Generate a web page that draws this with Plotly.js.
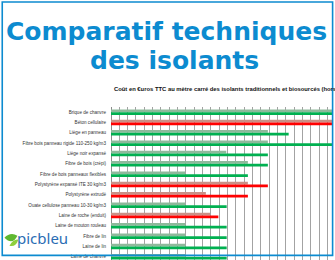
<!DOCTYPE html>
<html>
<head>
<meta charset="utf-8">
<script src="https://cdn.plot.ly/plotly-3.0.1.min.js"></script>
<style>
html,body{margin:0;padding:0;overflow:hidden;background:#fff;}
#chart{width:335px;height:280px;}
</style>
</head>
<body>
<div id="chart"></div>
<script>
// Categories (top to bottom)
const categories = [
  "Brique de chanvre",
  "Béton cellulaire",
  "Liège en panneau",
  "Fibre bois panneau rigide 110-250 kg/m3",
  "Liège noir expansé",
  "Fibre de bois (crépi)",
  "Fibre de bois panneaux flexibles",
  "Polystyrène expansé ITE 30 kg/m3",
  "Polystyrène extrudé",
  "Ouate cellulose panneau 10-30 kg/m3",
  "Laine de roche (enduit)",
  "Laine de mouton rouleau",
  "Fibre de lin",
  "Laine de lin",
  "Laine de chanvre"
];
// 1 = biosourcé (green), 0 = traditionnel (red)
const biosource = [1,0,1,1,1,1,1,0,0,1,0,1,1,1,1];
// Cost in € TTC / m²
const costMin = [60, 58, 37.7, 37.7, 27.7, 32.9, 17.8, 32.9, 22.8, 17.8, 23.8, 17.8, 17.8, 17.8, 17.8];
const costMax = [62, 62, 42.7, 56, 37.7, 37.7, 32.9, 37.7, 32.9, 27.8, 25.8, 27.8, 27.8, 27.8, 27.8];

const BLUE = "#0c8bd0";
const L = 110.7, T = 107, R = 333, ROW = 10.36;
const W = R - L, H = ROW * categories.length;
const FW = 335, FH = 280;
const px = v => (v - L) / W;
const py = v => 1 - (v - T) / H;

const lightFg = biosource.map(b => b ? "#2fb461" : "#f25a48");
const lightBg = biosource.map(b => b ? "#a8e0b8" : "#f7aa9c");
const solid = biosource.map(b => b ? "#00b050" : "#ff0000");

const traces = [
  {
    type: "bar", orientation: "h", y: categories, x: costMin,
    marker: {color: lightBg, line: {width: 0},
      pattern: {shape: "|", fgcolor: lightFg, bgcolor: lightBg, size: 2, solidity: 0.5, fillmode: "overlay"}},
    hoverinfo: "none"
  },
  {
    type: "bar", orientation: "h", y: categories, x: costMax,
    marker: {color: solid, line: {width: 0}},
    hoverinfo: "none"
  }
];

const layout = {
  width: FW, height: FH,
  margin: {l: L, r: FW - R, t: T, b: FH - T - H, pad: 0},
  paper_bgcolor: "#fff", plot_bgcolor: "#fff",
  showlegend: false,
  barmode: "group", bargap: 0.46, bargroupgap: 0,
  xaxis: {range: [0, W / 8.333 * 2], dtick: 2, tick0: 0, showgrid: true, gridcolor: "#a3a3a3", gridwidth: 1,
    showticklabels: false, zeroline: true, zerolinecolor: "#8c8c8c", zerolinewidth: 1, fixedrange: true},
  yaxis: {type: "category", autorange: "reversed", showgrid: false, zeroline: false,
    showline: false, ticks: "", ticklabelstandoff: 4,
    tickfont: {family: "Liberation Sans, Arial, sans-serif", size: 4.6, color: "#333"}, fixedrange: true},
  annotations: [
    {text: "<b>Comparatif techniques</b>", xref: "paper", yref: "paper", x: px(166), y: py(31), xanchor: "center", yanchor: "middle",
      showarrow: false, font: {family: "DejaVu Sans, sans-serif", size: 25, color: BLUE}},
    {text: "<b>des isolants</b>", xref: "paper", yref: "paper", x: px(174), y: py(60), xanchor: "center", yanchor: "middle",
      showarrow: false, font: {family: "DejaVu Sans, sans-serif", size: 25, color: BLUE}},
    {text: "<b>Coût en €uros TTC au mètre carré des isolants traditionnels et biosourcés (hors</b>", xref: "paper", yref: "paper",
      x: px(111.5), y: py(88.5), xanchor: "left", yanchor: "middle", showarrow: false,
      font: {family: "Liberation Sans, Arial, sans-serif", size: 5.85, color: "#111"}},
    {text: "picbleu", xref: "paper", yref: "paper", x: px(15), y: py(238), xanchor: "left", yanchor: "middle",
      showarrow: false, font: {family: "Noto Sans, sans-serif", size: 15, color: "#2a6db4"}}
  ],
  shapes: [
    {type: "path", xref: "paper", yref: "paper", layer: "above",
      path: `M ${px(4)} ${py(238)} Q ${px(10)} ${py(232)} ${px(17)} ${py(236)} Q ${px(12)} ${py(246)} ${px(4)} ${py(238)} Z`,
      fillcolor: "#5fb830", line: {width: 0}},
    {type: "path", xref: "paper", yref: "paper", layer: "above",
      path: `M ${px(9)} ${py(246)} Q ${px(13)} ${py(239)} ${px(18)} ${py(240)} Q ${px(15)} ${py(248)} ${px(9)} ${py(246)} Z`,
      fillcolor: "#8fcf3c", line: {width: 0}},
    {type: "rect", xref: "paper", yref: "paper", layer: "above",
      x0: px(1.8), x1: px(332.6), y0: py(1.8), y1: py(255.8),
      line: {color: BLUE, width: 1.6}, fillcolor: "rgba(0,0,0,0)"}
  ]
};

Plotly.newPlot("chart", traces, layout, {staticPlot: true, displayModeBar: false});
</script>
</body>
</html>
